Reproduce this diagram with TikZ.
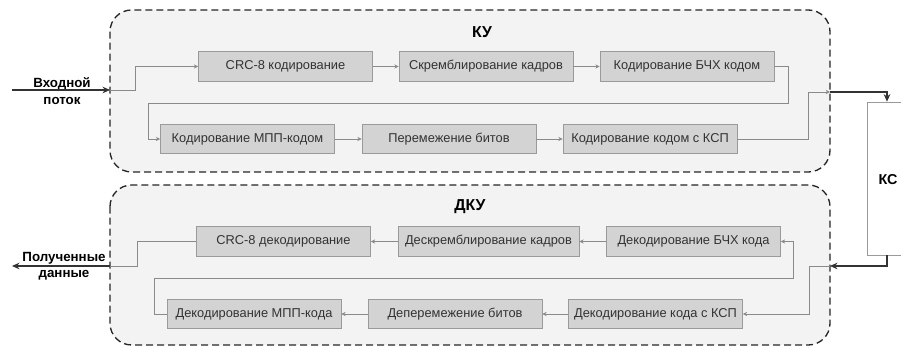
\documentclass[tikz,border=0pt]{standalone}
\usepackage{fontspec}
\setmainfont{Liberation Sans}
\usetikzlibrary{arrows.meta}
\definecolor{boxfill}{HTML}{D3D3D3}
\definecolor{boxline}{HTML}{9A9A9A}
\definecolor{zonefill}{HTML}{F3F3F3}
\definecolor{flowline}{HTML}{8A8A8A}
\tikzset{
  block/.style={draw=boxline, fill=boxfill, minimum width=104.4pt, minimum height=17.6pt, inner sep=0pt, font=\fontsize{7.7}{9}\selectfont, text=black!80},
  zone/.style={draw=black!85, dash pattern=on 4.2pt off 2.4pt, line width=0.8pt, fill=zonefill, rounded corners=13pt},
  flow/.style={draw=flowline, line width=0.5pt, -{Stealth[length=2.6pt,width=2.6pt]}},
  link/.style={draw=black!80, line width=0.7pt, -{Stealth[length=4.5pt,width=4pt]}},
  tag/.style={font=\bfseries\fontsize{8}{9.8}\selectfont, align=center, inner sep=0pt},
  zonetag/.style={tag, font=\bfseries\fontsize{9.5}{11}\selectfont}
}

\begin{document}
\begin{tikzpicture}[x=0.6pt,y=-0.6pt]
\useasboundingbox (0,0) rectangle (901,347);

% zones
\draw[zone] (110,10) rectangle (830,172);
\draw[zone] (110,185) rectangle (830,345);
\node[zonetag] (ku) at (482,32) {КУ};
\node[zonetag] (dku) at (470,207) {ДКУ};

% channel
\node[draw=boxline, fill=white, minimum width=24pt, minimum height=91.8pt, inner sep=0pt] (ks) at (887,178.5) {};
\node[tag, font=\bfseries\fontsize{8.6}{10}\selectfont] (kslabel) at (888,180) {КС};

% coder blocks
\node[block] (crc) at (285.5,66.5) {CRC-8 кодирование};
\node[block] (scr) at (486,66.5) {Скремблирование кадров};
\node[block] (bch) at (687,66.5) {Кодирование БЧХ кодом};
\node[block] (mpp) at (247.5,139) {Кодирование МПП-кодом};
\node[block] (perm) at (449,139) {Перемежение битов};
\node[block] (ksp) at (650,139) {Кодирование кодом с КСП};

% decoder blocks
\node[block] (crcd) at (283.5,241.5) {CRC-8 декодирование};
\node[block, minimum width=108.6pt] (scrd) at (488.5,241.5) {Дескремблирование кадров};
\node[block] (bchd) at (693.5,241.5) {Декодирование БЧХ кода};
\node[block] (mppd) at (254,314) {Декодирование МПП-кода};
\node[block] (permd) at (455,314) {Деперемежение битов};
\node[block] (kspd) at (655.5,314) {Декодирование кода с КСП};

% in / out
\coordinate (src) at (12,90);
\coordinate (kuin) at (110,90);
\coordinate (kuout) at (830,92);
\coordinate (dkuin) at (830,266);
\coordinate (dkuout) at (110,266);
\coordinate (dst) at (12,266);
\node[tag] (inlabel) at (62,91) {Входной\\поток};
\node[tag] (outlabel) at (64,266) {Полученные\\данные};

\draw[link] (src) -- (kuin);
\draw[flow] (kuin) -- ++(25,0) |- (crc.west);
\draw[flow] (crc) -- (scr);
\draw[flow] (scr) -- (bch);
\draw[flow] (bch.east) -- ++(14,0) |- (148,103) |- (mpp.west);
\draw[flow] (mpp) -- (perm);
\draw[flow] (perm) -- (ksp);
\draw[flow] (ksp.east) -- ++(71,0) |- (kuout);
\draw[link] (kuout) -| (ks.north);

\draw[link] (ks.south) |- (dkuin);
\draw[flow] (dkuin) -- ++(-21,0) |- (kspd.east);
\draw[flow] (kspd) -- (permd);
\draw[flow] (permd) -- (mppd);
\draw[flow] (mppd.west) -- ++(-12,0) |- (793,278) |- (bchd.east);
\draw[flow] (bchd) -- (scrd);
\draw[flow] (scrd) -- (crcd);
\draw[flow, -] (crcd.west) -- ++(-59,0) |- (dkuout);
\draw[link] (dkuout) -- (dst);

\end{tikzpicture}
\end{document}
